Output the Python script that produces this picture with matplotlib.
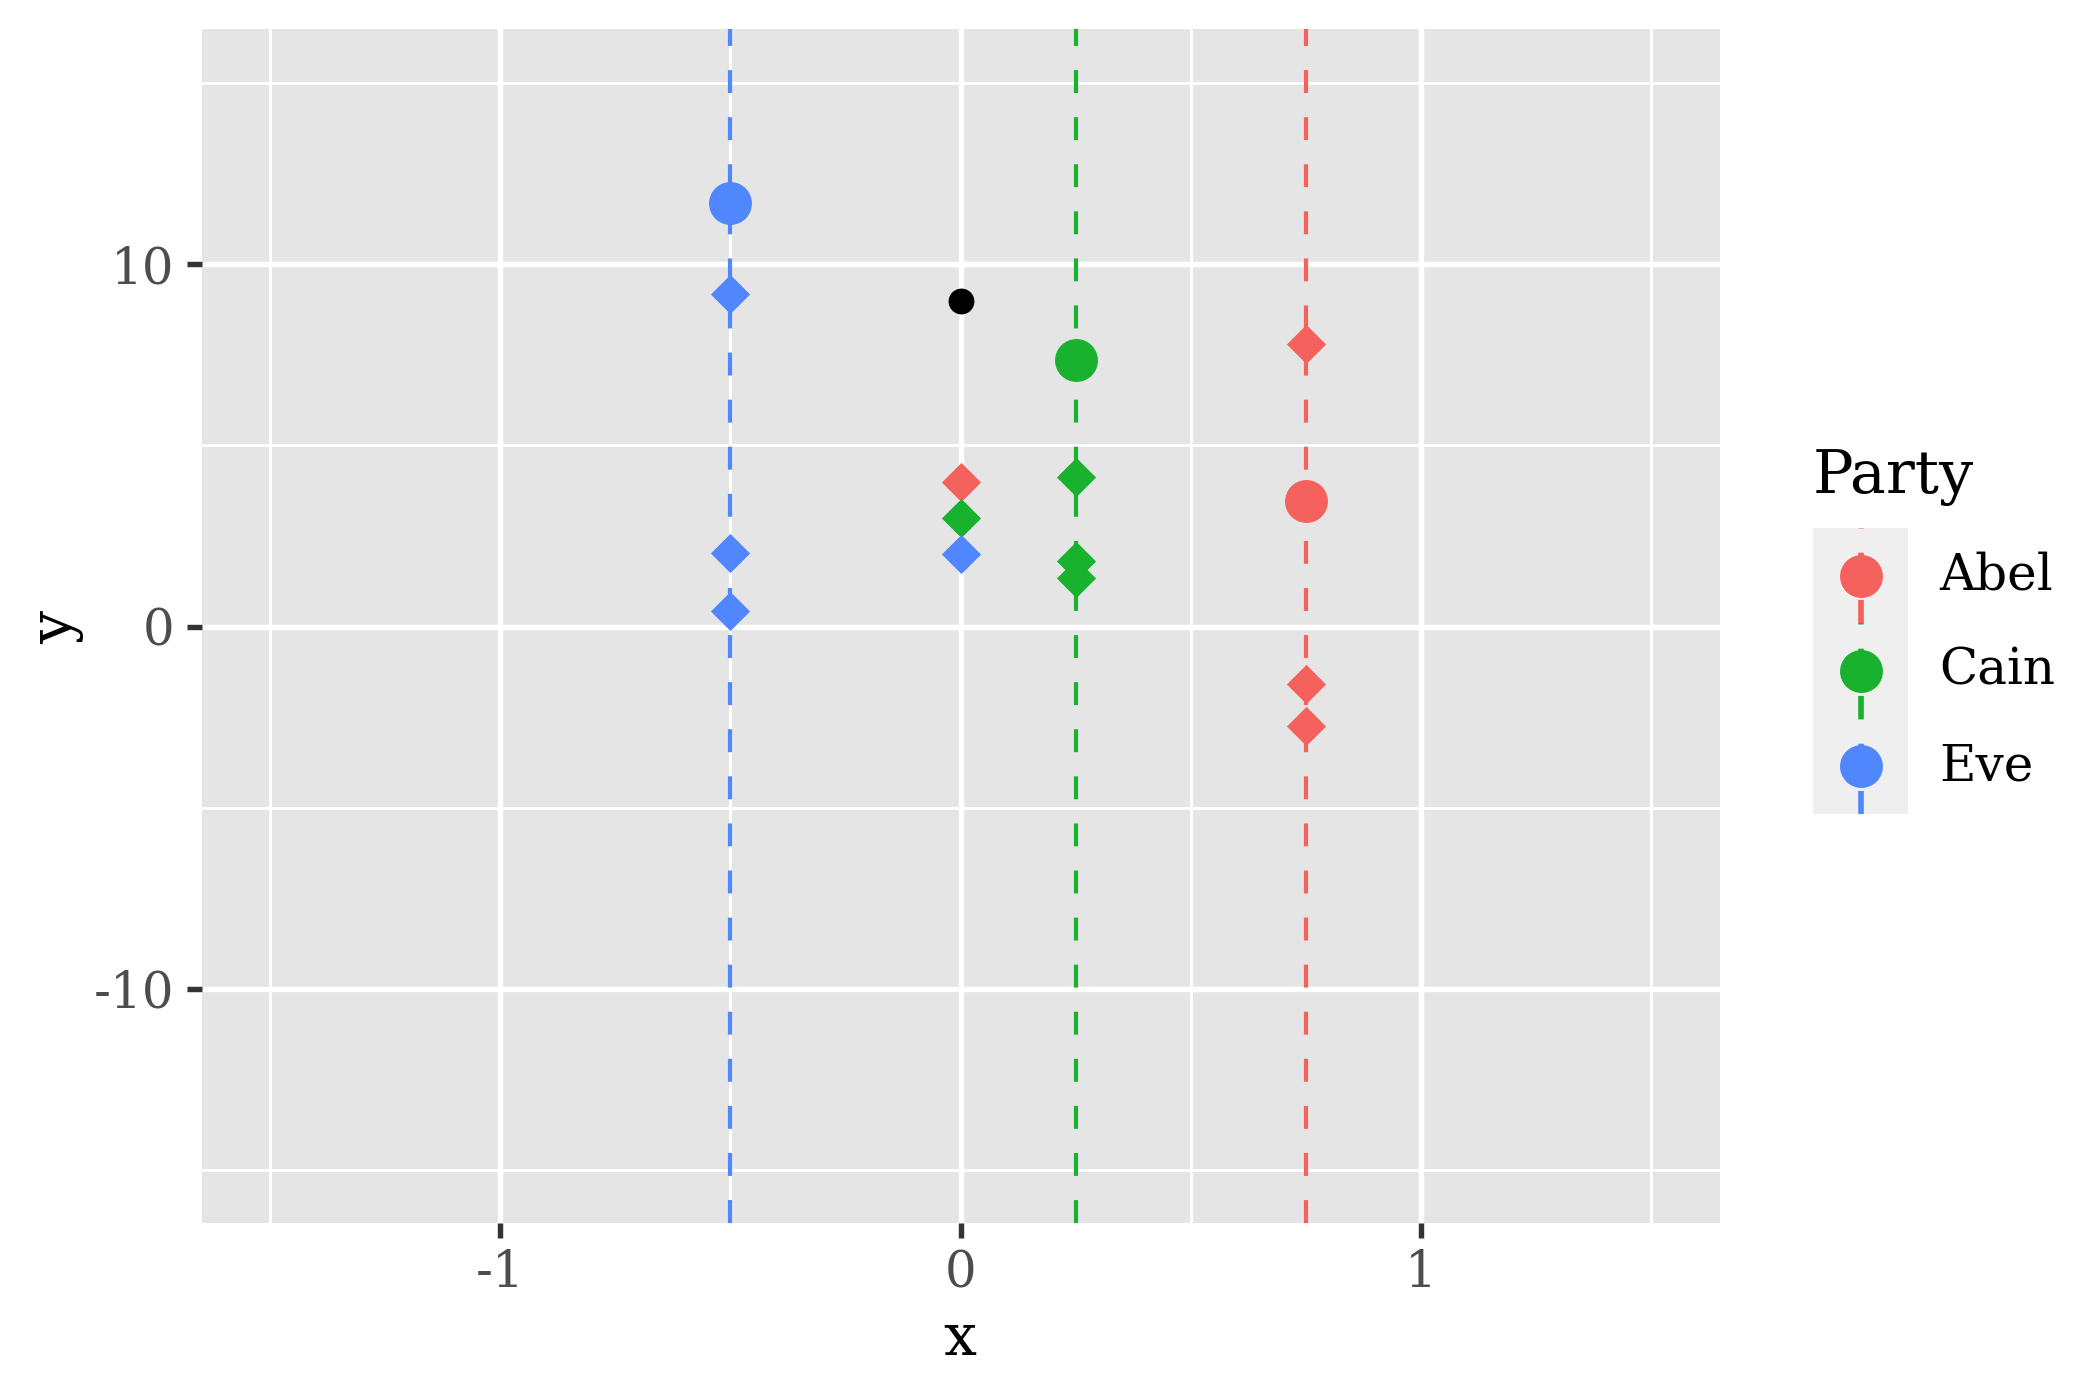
import numpy as np
import matplotlib
matplotlib.use("Agg")
import matplotlib.pyplot as plt
from matplotlib.path import Path

plt.rcParams['font.family'] = ['DejaVu Serif']

# datos
partidos = ["Abel", "Cain", "Eve"]
colores = ["#F5625D", "#19B22E", "#5087FF"]
x_linea = [0.75, 0.25, -0.5]          # lineas verticales punteadas
y_circulo = [3.47, 7.35, 11.70]        # circulos grandes sobre cada linea
x_rombos = {
    "Abel": [0.0, 0.75, 0.75, 0.75],
    "Cain": [0.0, 0.25, 0.25, 0.25],
    "Eve": [0.0, -0.5, -0.5, -0.5],
}
y_rombos = {
    "Abel": [4.0, 7.79, -1.60, -2.75],
    "Cain": [3.0, 4.14, 1.81, 1.35],
    "Eve": [2.0, 9.19, 2.03, 0.43],
}
x_negro = [0.0]
y_negro = [9.0]

x_ticks = [-1, 0, 1]
y_ticks = [-10, 0, 10]

# rombo como el shape 18 de ggplot
rombo = Path([(0, 1), (1, 0), (0, -1), (-1, 0), (0, 1)], closed=True)
guiones = (0, (5.5, 5.8))

fig = plt.figure(figsize=(7, 14/3), dpi=300)
ax = fig.add_axes([202/2100, 1-1223/1400, (1720-202)/2100, (1223-29)/1400])
ax.set_facecolor("#E5E5E5")
for s in ax.spines.values():
    s.set_visible(False)

ax.set_xlim(-1.648, 1.650)
ax.set_ylim(-16.47, 16.5)

# rejilla estilo ggplot
for v in [-1.5, -0.5, 0.5, 1.5]:
    ax.axvline(v, color="white", lw=0.7, zorder=0.5)
for v in x_ticks:
    ax.axvline(v, color="white", lw=1.3, zorder=0.6)
for h in [-15, -5, 5, 15]:
    ax.axhline(h, color="white", lw=0.7, zorder=0.5)
for h in y_ticks:
    ax.axhline(h, color="white", lw=1.3, zorder=0.6)

for p, c, xl in zip(partidos, colores, x_linea):
    ax.axvline(xl, color=c, lw=1.0, linestyle=guiones, zorder=1)

for p, c, xl, yc in zip(partidos, colores, x_linea, y_circulo):
    ax.plot(x_rombos[p], y_rombos[p], linestyle="none", marker=rombo,
            markersize=9.4, color=c, markeredgewidth=0, zorder=3)
    ax.plot([xl], [yc], linestyle="none", marker="o", markersize=10.3,
            color=c, markeredgewidth=0, zorder=3)

ax.plot(x_negro, y_negro, linestyle="none", marker="o", markersize=6.2,
        color="black", markeredgewidth=0, zorder=3)

ax.set_xticks(x_ticks)
ax.set_xticklabels([str(v) for v in x_ticks])
ax.set_yticks(y_ticks)
ax.set_yticklabels([str(v) for v in y_ticks])
ax.tick_params(axis="both", colors="#333333", length=3.7, width=1.3,
               labelcolor="#4D4D4D", labelsize=12)
ax.tick_params(axis="x", pad=2.5)
ax.tick_params(axis="y", pad=3)

fig.text(960/2100, 1-1355/1400, "x", ha="center", va="baseline", fontsize=14)
fig.text(56/2100, 1-627/1400, "y", ha="center", va="center", rotation=90,
         fontsize=14)

# leyenda hecha a mano
lg = fig.add_axes([1813/2100, 1-814/1400, 95/2100, 286/1400])
lg.set_facecolor("#EFEFEF")
for s in lg.spines.values():
    s.set_visible(False)
lg.set_xticks([])
lg.set_yticks([])
lg.set_xlim(0, 1)
lg.set_ylim(0, 3)
for i, (p, c) in enumerate(zip(partidos, colores)):
    k = 2 - i
    lg.plot([0.5, 0.5], [k, k+1], color=c, lw=1.35, linestyle=(0, (4.1, 4.3)))
    lg.plot([0.5], [k+0.5], marker="o", markersize=10.3, color=c,
            markeredgewidth=0, linestyle="none")
    lg.text(1.33, k+0.5, p, ha="left", va="center", fontsize=12,
            clip_on=False)

fig.text(1813/2100, 1-493/1400, "Party", ha="left", va="baseline", fontsize=14.5)

fig.savefig("out.png", dpi=300, facecolor="white")
